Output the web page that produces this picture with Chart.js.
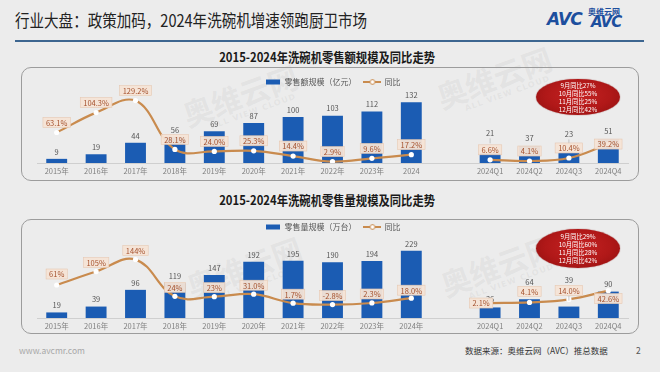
<!DOCTYPE html>
<html><head><meta charset="utf-8">
<script src="https://cdn.jsdelivr.net/npm/chart.js@4.4.1/dist/chart.umd.min.js"></script>
<style>
html,body{margin:0;padding:0;}
body{width:660px;height:372px;background:#ececec;position:relative;overflow:hidden;font-family:"Noto Sans CJK SC","Noto Sans",sans-serif;}
.title{position:absolute;left:15px;top:9px;font-size:17px;line-height:22px;color:#222;transform:scaleX(0.855);transform-origin:left top;white-space:nowrap;}
.rule{position:absolute;left:15px;top:40px;width:629px;height:2px;background:#3d6690;}
.logo{position:absolute;left:547px;top:9px;white-space:nowrap;color:#1d4f9e;font-family:"DejaVu Sans",sans-serif;font-weight:bold;font-style:italic;}
.logo .a{font-size:17px;letter-spacing:-1px;}
.logo .b{position:absolute;left:41px;top:-3px;font-size:8px;font-style:normal;font-family:"Noto Sans CJK SC";}
.logo .c{position:absolute;left:44px;top:4px;font-size:15px;letter-spacing:-1px;}
.ctitle{position:absolute;left:0;width:654px;text-align:center;font-size:13px;line-height:16px;font-weight:bold;color:#1a1a1a;white-space:nowrap;}
.ctitle span{display:inline-block;transform:scaleX(0.87);}
.box{position:absolute;left:21px;width:618px;border:1px solid #9c9c9c;border-radius:10px;box-sizing:border-box;}
canvas{position:absolute;}
.ell{position:absolute;width:84px;height:36px;border-radius:50%;background:radial-gradient(ellipse at 50% 45%,#c62222 0%,#b01818 55%,#8c0f0f 100%);box-shadow:0 0 1px #7a0a0a;}
.ln{position:absolute;left:0;width:84px;text-align:center;color:#fff;font-size:6.3px;line-height:8px;height:8px;white-space:nowrap;}
.foot{position:absolute;top:344px;font-size:8.5px;line-height:12px;white-space:nowrap;}
.wm{position:absolute;white-space:nowrap;color:rgba(150,150,150,0.11);font-weight:bold;transform:rotate(-20deg);transform-origin:left top;}
.wm .big{font-size:30px;line-height:32px;display:block;}
.wm .sm{font-size:8px;line-height:10px;display:block;padding-left:22px;letter-spacing:1px;font-family:"DejaVu Sans";}
</style></head>
<body>
<div class="title">行业大盘：政策加码，2024年洗碗机增速领跑厨卫市场</div>
<div class="rule"></div>
<div class="logo"><span class="a">AVC</span><span class="b">奥维云网</span><span class="c">AVC</span></div>

<div class="ctitle" style="top:49px"><span>2015-2024年洗碗机零售额规模及同比走势</span></div>
<div class="box" style="top:67px;height:114px"></div>
<div class="wm" style="left:178px;top:100px"><span class="big">奥维云网</span><span class="sm">ALL VIEW CLOUD</span></div>
<div class="wm" style="left:432px;top:82px"><span class="big">奥维云网</span><span class="sm">ALL VIEW CLOUD</span></div>
<canvas id="c1" width="618" height="113" style="left:21px;top:67px"></canvas>
<div class="ell" style="left:536px;top:79px">
  <div class="ln" style="top:3px">9月同比27%</div><div class="ln" style="top:11px">10月同比55%</div><div class="ln" style="top:19px">11月同比25%</div><div class="ln" style="top:27px">12月同比42%</div>
</div>

<div class="ctitle" style="top:192px"><span>2015-2024年洗碗机零售量规模及同比走势</span></div>
<div class="box" style="top:219px;height:115px"></div>
<div class="wm" style="left:182px;top:272px"><span class="big">奥维云网</span><span class="sm">ALL VIEW CLOUD</span></div>
<div class="wm" style="left:436px;top:270px"><span class="big">奥维云网</span><span class="sm">ALL VIEW CLOUD</span></div>
<canvas id="c2" width="618" height="120" style="left:21px;top:215px"></canvas>
<div class="ell" style="left:536px;top:229px;height:39px">
  <div class="ln" style="top:4px">9月同比29%</div><div class="ln" style="top:12px">10月同比60%</div><div class="ln" style="top:20px">11月同比28%</div><div class="ln" style="top:28px">12月同比42%</div>
</div>

<div class="foot" style="left:19px;color:#a8a8a8">www.avcmr.com</div>
<div class="foot" style="left:465px;color:#333">数据来源：奥维云网（AVC）推总数据</div>
<div class="foot" style="left:636px;color:#555">2</div>

<script>
// ---------- data ----------
const categoriesValue = ['2015年','2016年','2017年','2018年','2019年','2020年','2021年','2022年','2023年','2024','','2024Q1','2024Q2','2024Q3','2024Q4'];
const categoriesVolume = ['2015年','2016年','2017年','2018年','2019年','2020年','2021年','2022年','2023年','2024年','','2024Q1','2024Q2','2024Q3','2024Q4'];
const retailValue = [9,19,44,56,69,87,100,103,112,132,null,21,37,23,51];          // 亿元
const retailValueYoY = [63.1,104.3,129.2,28.1,24.0,25.3,14.4,2.9,9.6,17.2,null,6.6,4.1,10.4,39.2];
const retailVolume = [19,39,96,119,147,192,195,190,194,229,null,36,64,39,90];     // 万台
const retailVolumeYoY = [61,105,144,24,23,31.0,1.7,-2.8,2.3,18.0,null,2.1,4.1,14.0,42.6];
const volumeYoYDecimals = [0,0,0,0,0,1,1,1,1,1,0,1,1,1,1];
const valueYoYDecimals = [1,1,1,1,1,1,1,1,1,1,0,1,1,1,1];

// ---------- style ----------
const BLUE = '#1b5cb3';
const ORANGE = '#c98b4e';
const FONT = '"Noto Sans CJK SC","Noto Sans",sans-serif';

function barIcon(){const c=document.createElement('canvas');c.width=14;c.height=6;const x=c.getContext('2d');x.fillStyle=BLUE;x.fillRect(0,0.5,14,5);return c;}
function lineIcon(){const c=document.createElement('canvas');c.width=18;c.height=8;const x=c.getContext('2d');
  x.strokeStyle=ORANGE;x.lineWidth=2;x.beginPath();x.moveTo(0,4);x.lineTo(18,4);x.stroke();
  x.beginPath();x.arc(9,4,2.4,0,Math.PI*2);x.fillStyle='#fff';x.fill();x.lineWidth=1;x.stroke();return c;}

function makeLabelPlugin(cfg){
  return {
    id:'valueLabels',
    afterDatasetsDraw(chart){
      const ctx=chart.ctx;
      const barMeta=chart.getDatasetMeta(0), lineMeta=chart.getDatasetMeta(1);
      const bars=chart.data.datasets[0].data, pcts=chart.data.datasets[1].data;
      ctx.save();
      ctx.textAlign='center';ctx.textBaseline='middle';
      ctx.font='7.5px '+FONT;
      barMeta.data.forEach((el,i)=>{
        const v=bars[i]; if(v==null) return;
        const lift=(cfg.barLift[i]!==undefined)?cfg.barLift[i]:7;
        const y=el.y-lift;
        if(cfg.leader[i]){ctx.strokeStyle='#b8b8b8';ctx.lineWidth=0.8;ctx.beginPath();ctx.moveTo(el.x,y+5);ctx.lineTo(el.x,y+cfg.leader[i]);ctx.stroke();}
        ctx.fillStyle='#555';ctx.fillText(String(v),el.x,y);
      });
      lineMeta.data.forEach((el,i)=>{
        const v=pcts[i]; if(v==null) return;
        const txt=v.toFixed(cfg.decimals[i])+'%';
        const off=cfg.pctOffset[i]||[0,-10];
        const w=ctx.measureText(txt).width+6, h=10;
        const cx=el.x+off[0], cy=el.y+off[1];
        ctx.fillStyle='rgba(246,228,214,0.95)';ctx.fillRect(cx-w/2,cy-h/2,w,h);
        ctx.strokeStyle='#e6c8b2';ctx.lineWidth=0.6;ctx.strokeRect(cx-w/2,cy-h/2,w,h);
        ctx.fillStyle='#a4502c';ctx.fillText(txt,cx,cy+0.5);
      });
      ctx.restore();
    }
  };
}

function makeChart(id,labels,bars,pcts,barLabel,yMax,y1Min,y1Max,pad,cfg){
  return new Chart(document.getElementById(id),{
    data:{labels,datasets:[
      {type:'bar',label:barLabel,data:bars,backgroundColor:BLUE,yAxisID:'y',order:2,categoryPercentage:1,barPercentage:0.53},
      {type:'line',label:'同比',data:pcts,borderColor:ORANGE,borderWidth:2.2,tension:0.4,spanGaps:false,
       pointRadius:2.6,pointBackgroundColor:'#fff',pointBorderColor:'#fff',pointBorderWidth:0,yAxisID:'y1',order:1}
    ]},
    options:{
      responsive:false,animation:false,devicePixelRatio:1,
      layout:{padding:{left:pad.left,right:pad.right,top:pad.top,bottom:pad.bottom}},
      plugins:{
        tooltip:{enabled:false},
        legend:{position:'top',labels:{usePointStyle:true,pointStyleWidth:16,font:{size:8,family:FONT},color:'#555',padding:pad.legend,
          generateLabels:(chart)=>[
            {text:chart.data.datasets[0].label,pointStyle:barIcon(),fillStyle:BLUE,strokeStyle:'transparent',lineWidth:0,hidden:false,datasetIndex:0,fontColor:'#555'},
            {text:chart.data.datasets[1].label,pointStyle:lineIcon(),fillStyle:ORANGE,strokeStyle:'transparent',lineWidth:0,hidden:false,datasetIndex:1,fontColor:'#555'}
          ]}}
      },
      scales:{
        x:{grid:{display:false,drawTicks:false},border:{color:'#cfcfcf'},ticks:{font:{size:7.5,family:FONT},color:'#808080',padding:pad.tick,maxRotation:0,autoSkip:false}},
        y:{display:false,min:0,max:yMax},
        y1:{display:false,min:y1Min,max:y1Max}
      }
    },
    plugins:[makeLabelPlugin(cfg)]
  });
}

makeChart('c1',categoriesValue,retailValue,retailValueYoY,'零售额规模（亿元）',145.7,0,138.7,
  {left:16,right:11,top:3,bottom:0,legend:8,tick:4},
  {decimals:valueYoYDecimals,barLift:{11:20,12:8,13:18,14:8},leader:{11:10,13:10},pctOffset:{14:[0,0]}});

makeChart('c2',categoriesVolume,retailVolume,retailVolumeYoY,'零售量规模（万台）',262.6,-46.8,204.8,
  {left:16,right:11,top:0,bottom:0,legend:8,tick:4},
  {decimals:volumeYoYDecimals,barLift:{11:8,12:17,13:26,14:7},leader:{13:20},
   pctOffset:{0:[0,-11],1:[0,-9],2:[0,-9],3:[0,-9],4:[0,-9],5:[0,-9],6:[0,-9],7:[0,-9],8:[0,-9],9:[0,-8],11:[-9,0],12:[0,-11],13:[0,-9],14:[0,8]}});
</script>
</body></html>
